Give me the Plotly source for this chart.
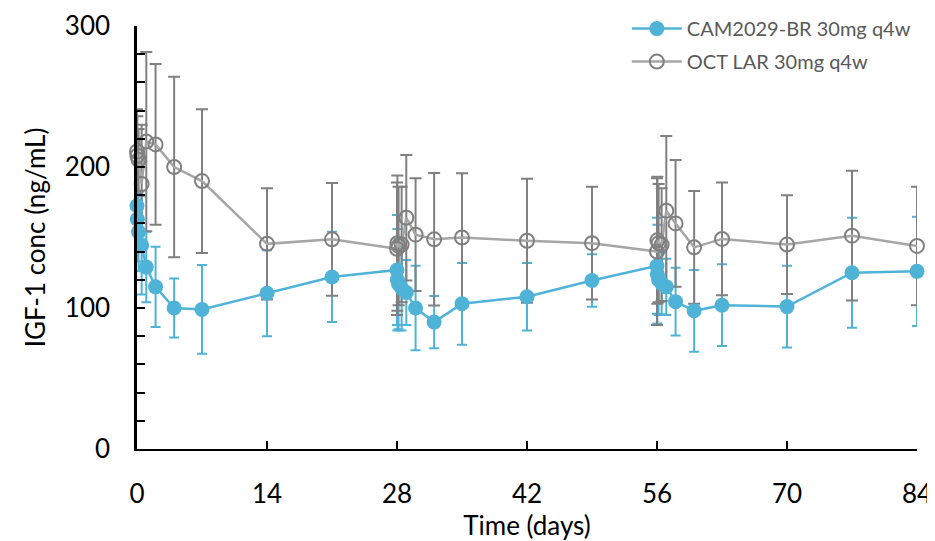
import plotly.graph_objects as go

# ---- data ----
days = [0, 0.04, 0.17, 0.5, 1, 2, 4, 7, 14, 21, 28, 28.04, 28.17, 28.5, 29, 30, 32, 35,
        42, 49, 56, 56.04, 56.17, 56.5, 57, 58, 60, 63, 70, 77, 84]
cam_mean = [172.5, 163, 154, 144.5, 129, 115, 100, 99, 110.5, 122, 127, 120, 117, 114, 111, 100, 90, 103,
            108, 119.5, 130, 124, 120, 117.5, 115, 104.5, 98, 102, 101, 125, 126]
cam_sd = [30, 30, 28, 35, 25, 28.5, 21, 31.5, 30.5, 32, 39, 36, 32, 30, 23, 30, 18.5, 29,
          24, 18.7, 34, 35, 25, 22, 20, 24, 29, 29, 29, 39, 38.7]
oct_mean = [211, 208, 205, 188, 218, 216, 200, 190, 145.5, 148.7, 142, 146, 144, 145, 164, 152, 148.7, 150,
            147.7, 146, 140, 148, 146, 145, 169, 160, 143, 149, 145, 151.3, 144]
oct_sd = [30, 28, 22, 42, 63.5, 57, 64, 51, 39.5, 40, 47, 48, 42, 41, 44.5, 40, 47, 45.5,
          44, 40, 52, 45, 42, 40, 53, 45, 40, 40, 35, 46, 42]
x_ticks = [0, 14, 28, 42, 56, 70, 84]
y_ticks = [0, 100, 200, 300]
names = ["CAM2029-BR 30mg q4w", "OCT LAR 30mg q4w"]

BLUE = "#4FB3D8"
GRAY_LINE = "#A6A6A6"
GRAY_DARK = "#808080"
FONT = "Lato, 'Open Sans', sans-serif"

fig = go.Figure()
# error bars first (under markers)
fig.add_trace(go.Scatter(x=days, y=cam_mean, mode="markers", marker=dict(size=1, opacity=0),
                         error_y=dict(type="data", array=cam_sd, color=BLUE, thickness=2, width=5),
                         showlegend=False, hoverinfo="skip", cliponaxis=False))
fig.add_trace(go.Scatter(x=days, y=oct_mean, mode="markers", marker=dict(size=1, opacity=0),
                         error_y=dict(type="data", array=oct_sd, color=GRAY_DARK, thickness=2, width=6),
                         showlegend=False, hoverinfo="skip", cliponaxis=False))
fig.add_trace(go.Scatter(x=days, y=cam_mean, mode="lines+markers", name=names[0],
                         line=dict(color=BLUE, width=2.5),
                         marker=dict(color=BLUE, size=15, symbol="circle"),
                         legendgroup="a", cliponaxis=False))
fig.add_trace(go.Scatter(x=days, y=oct_mean, mode="lines+markers", name=names[1],
                         line=dict(color=GRAY_LINE, width=2.5),
                         marker=dict(color=GRAY_DARK, size=14, symbol="circle-open", line=dict(width=2)),
                         legendgroup="b", cliponaxis=False))

# page body adds an ~8px offset; figure is sized to compensate
fig.update_layout(
    width=927, height=533,
    margin=dict(l=129, r=18, t=18, b=92, autoexpand=False),
    plot_bgcolor="white", paper_bgcolor="white",
    font=dict(family=FONT, color="black", size=26),
    legend=dict(x=0.628, y=1.04, xanchor="left", yanchor="top",
                font=dict(size=20, color="#595959"), bgcolor="rgba(0,0,0,0)",
                itemwidth=50, tracegroupgap=4),
    xaxis=dict(range=[0, 84], tickvals=x_ticks, ticks="inside", ticklen=8, tickwidth=1.5,
               tickcolor="black", showline=True, linecolor="black", linewidth=2,
               showgrid=False, zeroline=False, ticklabelstandoff=21, automargin=False,
               ticklabeloverflow="allow",
               title=dict(text="Time (days)", standoff=0, font=dict(size=26))),
    yaxis=dict(range=[0, 300], tickvals=y_ticks, ticks="inside", ticklen=8, tickwidth=2,
               tickcolor="black", showline=True, linecolor="black", linewidth=2.5,
               showgrid=False, zeroline=False, ticklabelstandoff=19, automargin=False,
               minor=dict(dtick=20, ticks="inside", ticklen=8, tickwidth=1.5, tickcolor="black", showgrid=False),
               title=dict(text="IGF-1 conc (ng/mL)", standoff=12, font=dict(size=26))),
)

fig.write_html("out.html")
